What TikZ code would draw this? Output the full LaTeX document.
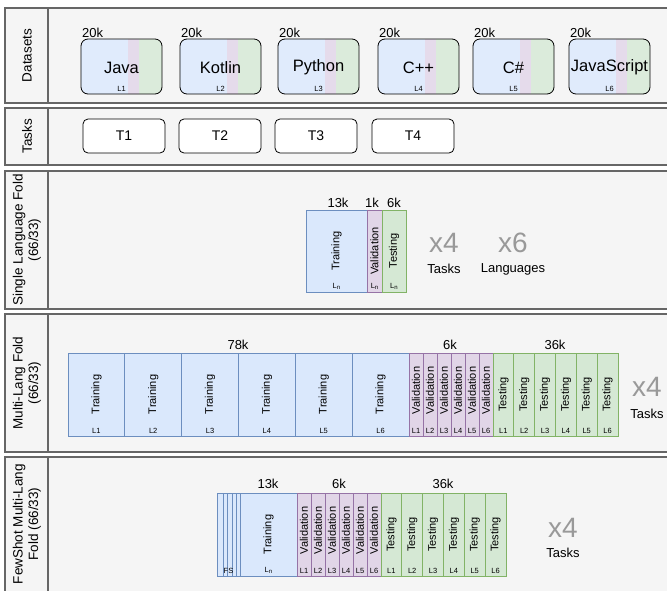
\documentclass[tikz,border=0pt]{standalone}
\usepackage{fontspec}
\setmainfont{Liberation Sans}
\usetikzlibrary{calc}
\definecolor{lanefill}{HTML}{F5F5F5}
\definecolor{lanedraw}{HTML}{666666}
\definecolor{bfill}{HTML}{DAE8FC}
\definecolor{bdraw}{HTML}{6C8EBF}
\definecolor{pfill}{HTML}{E1D5E7}
\definecolor{pdraw}{HTML}{9673A6}
\definecolor{gfill}{HTML}{D5E8D4}
\definecolor{gdraw}{HTML}{82B366}
\definecolor{bigxc}{HTML}{999999}
\newcommand{\lsub}{L{\fontsize{6}{7}\selectfont\raisebox{-1pt}{n}}}
\tikzset{
  lane/.style={draw=lanedraw, fill=lanefill, line width=1.3pt},
  lanediv/.style={draw=lanedraw, line width=1.3pt},
  hdr/.style={rotate=90, align=center, inner sep=0, font=\fontsize{13.5}{15.5}\selectfont},
  cell/.style={rectangle, inner sep=0, outer sep=0, anchor=north west, line width=0.8pt},
  trbox/.style={cell, fill=bfill, draw=bdraw},
  vabox/.style={cell, fill=pfill, draw=pdraw},
  tebox/.style={cell, fill=gfill, draw=gdraw},
  rottxt/.style={rotate=90, inner sep=0, font=\fontsize{11}{12}\selectfont},
  tinylab/.style={anchor=south, inner sep=0, font=\fontsize{7.5}{8}\selectfont},
  cnt/.style={inner sep=0, font=\fontsize{13}{15}\selectfont},
  bigx/.style={inner sep=0, text=bigxc, font=\fontsize{28}{30}\selectfont},
  dsbox/.style={rectangle, rounded corners=7pt, draw=black, line width=0.8pt, inner sep=0, outer sep=0, anchor=north west, minimum width=81pt, minimum height=55pt},
  taskbox/.style={rectangle, rounded corners=5pt, draw=black, fill=white, line width=0.8pt, inner sep=0, outer sep=0, anchor=north west, minimum width=82pt, minimum height=34pt},
}
\begin{document}
\begin{tikzpicture}[x=1pt,y=-1pt]
\useasboundingbox (0,0) rectangle (667,590);
\fill[white] (0,0) rectangle (667,590);

% ---------- lanes ----------
\draw[lane] (5,8) rectangle (675,103);
\draw[lanediv] (48,8) -- (48,103);
\draw[lane] (5,108) rectangle (675,165);
\draw[lanediv] (48,108) -- (48,165);
\draw[lane] (5,171) rectangle (675,309);
\draw[lanediv] (48,171) -- (48,309);
\draw[lane] (5,314) rectangle (675,452);
\draw[lanediv] (48,314) -- (48,452);
\draw[lane] (5,457) rectangle (675,600);
\draw[lanediv] (48,457) -- (48,600);

\node[hdr] (h1) at (27,55.5) {Datasets};
\node[hdr] (h2) at (27,136.5) {Tasks};
\node[hdr] (h3) at (27,240) {Single Language Fold\\(66/33)};
\node[hdr] (h4) at (27,383) {Multi-Lang Fold\\(66/33)};
\node[hdr] (h5) at (27,524) {FewShot Multi-Lang\\Fold (66/33)};

% ---------- datasets ----------
\foreach \x/\nm/\lab [count=\i] in {81/Java/L1, 180/Kotlin/L2, 278/Python/L3, 378/C++/L4, 473/C\#/L5, 569/JavaScript/L6} {
  \begin{scope}
    \clip[rounded corners=7pt] (\x,39) rectangle ++(81,55);
    \fill[bfill!85!white] (\x,39) rectangle ++(47,55);
    \fill[pfill!85!white] (\x+47,39) rectangle ++(11,55);
    \fill[gfill!85!white] (\x+58,39) rectangle ++(23,55);
  \end{scope}
  \node[dsbox] (ds\i) at (\x,39) {};
  \node[inner sep=0, font=\fontsize{16.5}{18}\selectfont] (dsn\i) at ($(ds\i.center)+(0,1)$) {\nm};
  \node[tinylab] (dsl\i) at ($(ds\i.south)+(0,-2)$) {\lab};
  \node[inner sep=0, anchor=south west, font=\fontsize{13}{15}\selectfont] (dsk\i) at (\x+1,37.5) {20k};
}

% ---------- tasks ----------
\foreach \x [count=\i] in {83,179,275,372} {
  \node[taskbox] (t\i) at (\x,119) {};
  \node[inner sep=0, font=\fontsize{14}{16}\selectfont] (tt\i) at (t\i.center) {T\i};
}

% ---------- single language fold ----------
\node[trbox, minimum width=61pt, minimum height=82pt] (s1) at (306,210) {};
\node[vabox, minimum width=15pt, minimum height=82pt] (s2) at (367,210) {};
\node[tebox, minimum width=24pt, minimum height=82pt] (s3) at (382,210) {};
\node[rottxt] (s1t) at (s1.center) {Training};
\node[rottxt] (s2t) at (s2.center) {Validation};
\node[rottxt] (s3t) at (s3.center) {Testing};
\node[tinylab] (s1l) at ($(s1.south)+(0,-2)$) {\lsub};
\node[tinylab] (s2l) at ($(s2.south)+(0,-2)$) {\lsub};
\node[tinylab] (s3l) at ($(s3.south)+(0,-2)$) {\lsub};
\node[cnt] (sk1) at (338,203) {13k};
\node[cnt] (sk2) at (372,203) {1k};
\node[cnt] (sk3) at (394,203) {6k};
\node[bigx] (sx4) at (444,243) {x4};
\node[cnt] (sx4t) at (444,269) {Tasks};
\node[bigx] (sx6) at (513,243) {x6};
\node[cnt] (sx6t) at (513,269) {Languages};

% ---------- multi-lang fold ----------
\foreach \i in {1,...,6} {
  \node[trbox, minimum width=56.83pt, minimum height=83pt] (mt\i) at ({68+(\i-1)*56.83},353) {};
  \node[rottxt] (mtt\i) at (mt\i.center) {Training};
  \node[tinylab] (mtl\i) at ($(mt\i.south)+(0,-2)$) {L\i};
}
\foreach \i in {1,...,6} {
  \node[vabox, minimum width=14pt, minimum height=83pt] (mv\i) at ({409+(\i-1)*14},353) {};
  \node[rottxt] (mvt\i) at ($(mv\i.center)+(0,-4)$) {Validation};
  \node[tinylab] (mvl\i) at ($(mv\i.south)+(0,-2)$) {L\i};
}
\foreach \i in {1,...,6} {
  \node[tebox, minimum width=20.83pt, minimum height=83pt] (me\i) at ({493+(\i-1)*20.83},353) {};
  \node[rottxt] (met\i) at (me\i.center) {Testing};
  \node[tinylab] (mel\i) at ($(me\i.south)+(0,-2)$) {L\i};
}
\node[cnt] (mk1) at (238,345) {78k};
\node[cnt] (mk2) at (450,345) {6k};
\node[cnt] (mk3) at (555,345) {36k};
\node[bigx] (mx4) at (647,387) {x4};
\node[cnt] (mx4t) at (647,414) {Tasks};

% ---------- few-shot multi-lang fold ----------
\foreach \x/\w [count=\i] in {217/6, 223/4, 227/5, 232/4, 236/4} {
  \node[trbox, minimum width=\w pt, minimum height=83pt] (fs\i) at (\x,493) {};
}
\node[tinylab] (fsl) at ($(fs1.south west)+(11.5,-2)$) {FS};
\node[trbox, minimum width=57pt, minimum height=83pt] (ft) at (240,493) {};
\node[rottxt] (ftt) at (ft.center) {Training};
\node[tinylab] (ftl) at ($(ft.south)+(0,-2)$) {\lsub};
\foreach \i in {1,...,6} {
  \node[vabox, minimum width=14pt, minimum height=83pt] (fv\i) at ({297+(\i-1)*14},493) {};
  \node[rottxt] (fvt\i) at ($(fv\i.center)+(0,-4)$) {Validation};
  \node[tinylab] (fvl\i) at ($(fv\i.south)+(0,-2)$) {L\i};
}
\foreach \i in {1,...,6} {
  \node[tebox, minimum width=20.83pt, minimum height=83pt] (fe\i) at ({381+(\i-1)*20.83},493) {};
  \node[rottxt] (fet\i) at (fe\i.center) {Testing};
  \node[tinylab] (fel\i) at ($(fe\i.south)+(0,-2)$) {L\i};
}
\node[cnt] (fk1) at (268,484) {13k};
\node[cnt] (fk2) at (339,484) {6k};
\node[cnt] (fk3) at (443,484) {36k};
\node[bigx] (fx4) at (563,528) {x4};
\node[cnt] (fx4t) at (563,553) {Tasks};
\end{tikzpicture}
\end{document}
